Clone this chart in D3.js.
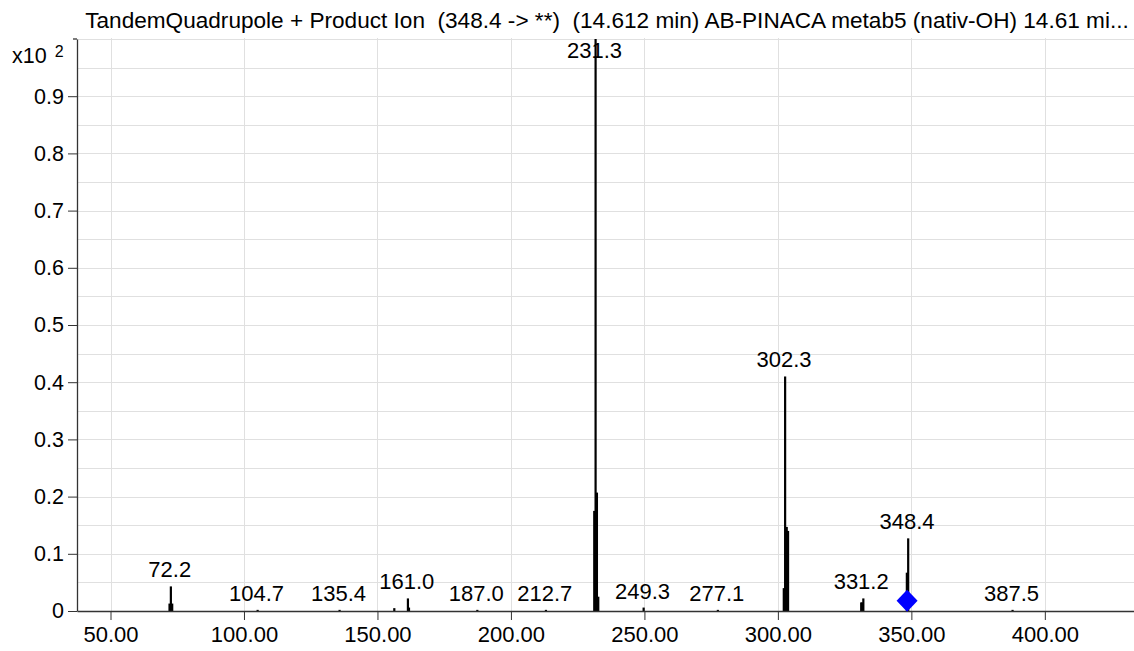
<!DOCTYPE html>
<html>
<head>
<meta charset="utf-8">
<script src="https://cdn.jsdelivr.net/npm/d3@7/dist/d3.min.js"></script>
<style>
  html, body { margin: 0; padding: 0; background: #fff; }
  svg { display: block; font-family: "Liberation Sans", Arial, sans-serif; }
</style>
</head>
<body>
<svg id="chart" width="1134" height="651"></svg>
<script>
// Product ion spectrum, abundance in units of x10^2 counts
const titleText = "TandemQuadrupole + Product Ion  (348.4 -> **)  (14.612 min) AB-PINACA metab5 (nativ-OH) 14.61 mi...";

// profile sticks (m/z, abundance)
const stickMz = [71.7, 72.2, 72.7, 104.7, 135.4, 155.9, 161.0, 161.4, 187.0, 212.7,
                 230.8, 231.3, 231.8, 232.3, 249.3, 277.1,
                 301.8, 302.3, 302.9, 303.4, 330.8, 331.2, 331.6, 347.9, 348.4, 387.5];
const stickAbund = [0.013, 0.043, 0.013, 0.002, 0.002, 0.005, 0.022, 0.006, 0.002, 0.002,
                    0.175, 1.0, 0.207, 0.025, 0.006, 0.002,
                    0.040, 0.410, 0.147, 0.140, 0.015, 0.015, 0.022, 0.067, 0.127, 0.002];

// annotated peak labels
const peakLabels = [72.2, 104.7, 135.4, 161.0, 187.0, 212.7, 231.3, 249.3, 277.1, 302.3, 331.2, 348.4, 387.5];

// precursor marker
const precursorMz = 348.4;
const precursorLevel = 0.018;

const xTicks = [50, 100, 150, 200, 250, 300, 350, 400];
const yTicks = [0, 0.1, 0.2, 0.3, 0.4, 0.5, 0.6, 0.7, 0.8, 0.9];
const yGrid = d3.range(0.05, 1.0001, 0.05);

const plotLeft = 77, plotRight = 1134, plotTop = 39, plotBottom = 611;

const x = d3.scaleLinear().domain([37.45, 433.4]).range([plotLeft, plotRight]);
const y = d3.scaleLinear().domain([0, 1.0]).range([plotBottom, plotTop]);

const svg = d3.select("#chart");

// grid
const grid = svg.append("g");
grid.selectAll("line.h").data(yGrid).join("line")
  .attr("x1", plotLeft).attr("x2", plotRight)
  .attr("y1", d => Math.round(y(d)) + 0.5).attr("y2", d => Math.round(y(d)) + 0.5)
  .attr("stroke", "#e0e0e0").attr("stroke-width", 1);
grid.selectAll("line.v").data(xTicks).join("line")
  .attr("x1", d => Math.round(x(d)) + 0.5).attr("x2", d => Math.round(x(d)) + 0.5)
  .attr("y1", plotTop - 1).attr("y2", plotBottom)
  .attr("stroke", "#e0e0e0").attr("stroke-width", 1);

// spectrum sticks
const sticks = stickMz.map((m, i) => ({ m, a: stickAbund[i] }));
svg.append("g").selectAll("rect").data(sticks)
  .join("rect")
  .attr("x", d => x(d.m))
  .attr("width", 2.2)
  .attr("y", d => y(d.a))
  .attr("height", d => plotBottom - y(d.a))
  .attr("fill", "#000");

// x axis
const xAxis = d3.axisBottom(x).tickValues(xTicks).tickFormat(d3.format(".2f"))
  .tickSizeInner(9).tickSizeOuter(0).tickPadding(6);
const gx = svg.append("g").attr("transform", `translate(0,${plotBottom})`).call(xAxis);
gx.select(".domain").attr("stroke", "#333").attr("stroke-width", 1.3);
gx.selectAll(".tick line").attr("stroke", "#333");
gx.selectAll("text").attr("font-size", 22).attr("fill", "#000")
  .attr("font-family", "Liberation Sans, Arial, sans-serif");

// y axis
const yAxis = d3.axisLeft(y).tickValues(yTicks).tickFormat(d => d === 0 ? "0" : d3.format(".1f")(d))
  .tickSizeInner(9).tickSizeOuter(0).tickPadding(4);
const gy = svg.append("g").attr("transform", `translate(${plotLeft},0)`).call(yAxis);
gy.select(".domain").attr("stroke", "#333").attr("stroke-width", 1.3);
gy.selectAll(".tick line").attr("stroke", "#333");
gy.selectAll("text").attr("font-size", 21.5).attr("fill", "#000")
  .attr("font-family", "Liberation Sans, Arial, sans-serif");
svg.append("line").attr("x1", plotLeft - 4).attr("x2", plotLeft)
  .attr("y1", y(1.0)).attr("y2", y(1.0)).attr("stroke", "#333").attr("stroke-width", 1.3);

// exponent label
const expo = svg.append("text").attr("x", 12).attr("y", 63).attr("font-size", 21.5).attr("fill", "#000");
expo.append("tspan").text("x10");
expo.append("tspan").attr("dx", 8).attr("dy", -6).attr("font-size", 16).text("2");

// peak labels above the local maximum
svg.append("g").selectAll("text").data(peakLabels).join("text")
  .attr("x", d => x(d))
  .attr("y", d => {
    const near = sticks.filter(s => Math.abs(s.m - d) <= 1.5);
    const mx = d3.max(near, s => s.a) || 0;
    return Math.max(y(mx) - 9, 58);
  })
  .attr("text-anchor", "middle")
  .attr("font-size", 22)
  .attr("fill", "#000")
  .text(d => d.toFixed(1));

// precursor diamond
const px = x(precursorMz), py = y(precursorLevel);
svg.append("path")
  .attr("d", `M${px},${py - 11}L${px + 10.5},${py}L${px},${py + 11}L${px - 10.5},${py}Z`)
  .attr("fill", "#0000ff");

// title
svg.append("text").attr("x", 607).attr("y", 28).attr("text-anchor", "middle")
  .style("white-space", "pre")
  .attr("font-size", 22.6).attr("fill", "#000").text(titleText);
</script>
</body>
</html>
